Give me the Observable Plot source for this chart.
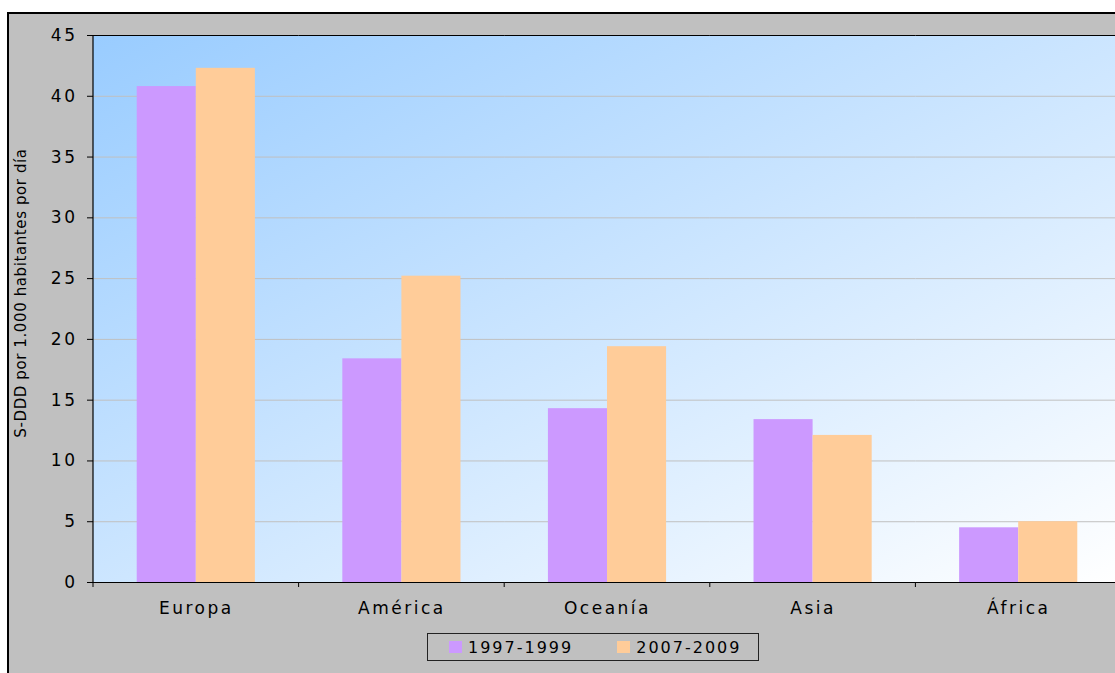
<!DOCTYPE html>
<html>
<head>
<meta charset="utf-8">
<script src="https://cdn.jsdelivr.net/npm/d3@7"></script>
<script src="https://cdn.jsdelivr.net/npm/@observablehq/plot@0.6"></script>
<style>
  html, body { margin: 0; padding: 0; background: #fff; }
  body { width: 1115px; height: 673px; position: relative; overflow: hidden; font-family: "DejaVu Sans", Verdana, sans-serif; }
  #panel { position: absolute; left: 7px; top: 12px; width: 1200px; height: 720px; background: #c0c0c0;
           border-left: 2px solid #000; border-top: 2px solid #000; box-sizing: border-box; }
  #chart { position: absolute; left: 0; top: 0; width: 1130px; }
  #chart svg { max-width: none !important; }
  #ytitle { position: absolute; left: 20.5px; top: 292.5px; transform: translate(-50%, -50%) rotate(-90deg);
            white-space: nowrap; font-size: 15px; line-height: 15px; letter-spacing: 0.6px; color: #000; }
  #legend { position: absolute; left: 427px; top: 633px; width: 332px; height: 28px; box-sizing: border-box;
            border: 1px solid #222; display: flex; align-items: center; font-size: 16px; letter-spacing: 2px; color: #000; }
  #legend .item { display: flex; align-items: center; }
  #legend .sw { width: 13px; height: 12px; margin-right: 6px; }
</style>
</head>
<body>
<div id="panel"></div>
<div id="chart"></div>
<div id="ytitle"></div>
<div id="legend"></div>
<script>
// Regions and the two survey periods
const regions = ["Europa", "América", "Oceanía", "Asia", "África"];
const periods = ["1997-1999", "2007-2009"];
// S-DDD per 1,000 inhabitants per day
const values1997 = [40.8, 18.4, 14.3, 13.4, 4.5];
const values2007 = [42.3, 25.2, 19.4, 12.1, 5.0];
const yTicks = [0, 5, 10, 15, 20, 25, 30, 35, 40, 45];
const periodColors = ["#CC99FF", "#FFCC99"];
const yTitle = "S-DDD por 1.000 habitantes por día";

const rows = regions.flatMap((region, i) => [
  {region, period: periods[0], value: values1997[i]},
  {region, period: periods[1], value: values2007[i]}
]);

const W = 1130, H = 630;
const mL = 93, mR = 9, mT = 35, mB = 48;

const plot = Plot.plot({
  width: W,
  height: H,
  marginLeft: mL,
  marginRight: mR,
  marginTop: mT,
  marginBottom: mB,
  style: {background: "transparent", fontFamily: "DejaVu Sans, Verdana, sans-serif", fontSize: "17px", color: "#000", letterSpacing: "2.5px", overflow: "visible", maxWidth: "none"},
  fx: {domain: regions, padding: 0, round: false, axis: "bottom", tickSize: 0, tickPadding: 19, label: null},
  x: {domain: periods, paddingInner: 0, paddingOuter: 0.74, round: false, axis: null},
  y: {domain: [0, 45], ticks: yTicks, tickSize: 6, tickPadding: 10, label: null},
  color: {domain: periods, range: periodColors},
  marks: [
    Plot.ruleY(yTicks, {stroke: "#c0c0c0", strokeWidth: 1}),
    Plot.barY(rows, {fx: "region", x: "period", y: "value", fill: "period"}),
    Plot.ruleY([0], {stroke: "#000", strokeWidth: 1.2}),
    Plot.ruleY([45], {stroke: "#000", strokeWidth: 1.2})
  ]
});

// Plot-area gradient, left axis line and category divider ticks
const svg = d3.select(plot);
const y = plot.scale("y");
const y0 = y.apply(0), y1 = y.apply(45);
const defs = svg.insert("defs", ":first-child");
const grad = defs.append("linearGradient").attr("id", "areaFill")
  .attr("x1", 0).attr("y1", 0).attr("x2", 1).attr("y2", 1);
grad.append("stop").attr("offset", 0).attr("stop-color", "#99CCFF");
grad.append("stop").attr("offset", 1).attr("stop-color", "#FFFFFF");
svg.insert("rect", "defs + *")
  .attr("x", mL).attr("y", y1).attr("width", W - mL - mR).attr("height", y0 - y1)
  .attr("fill", "url(#areaFill)");

const n = regions.length;
const step = (W - mL - mR) / n;
const extras = svg.append("g").attr("stroke", "#000");
extras.append("line").attr("x1", mL).attr("x2", mL).attr("y1", y1).attr("y2", y0).attr("stroke-width", 1.2);
for (let k = 0; k <= n; k++) {
  const x = mL + k * step;
  extras.append("line").attr("x1", x).attr("x2", x).attr("y1", y0).attr("y2", y0 + 5);
}

document.getElementById("chart").appendChild(plot);
document.getElementById("ytitle").textContent = yTitle;

// Legend
const legend = d3.select("#legend");
periods.forEach((p, i) => {
  const item = legend.append("div").attr("class", "item")
    .style("margin-left", i === 0 ? "21px" : "44px");
  item.append("div").attr("class", "sw").style("background", periodColors[i]);
  item.append("span").text(p);
});
</script>
</body>
</html>
